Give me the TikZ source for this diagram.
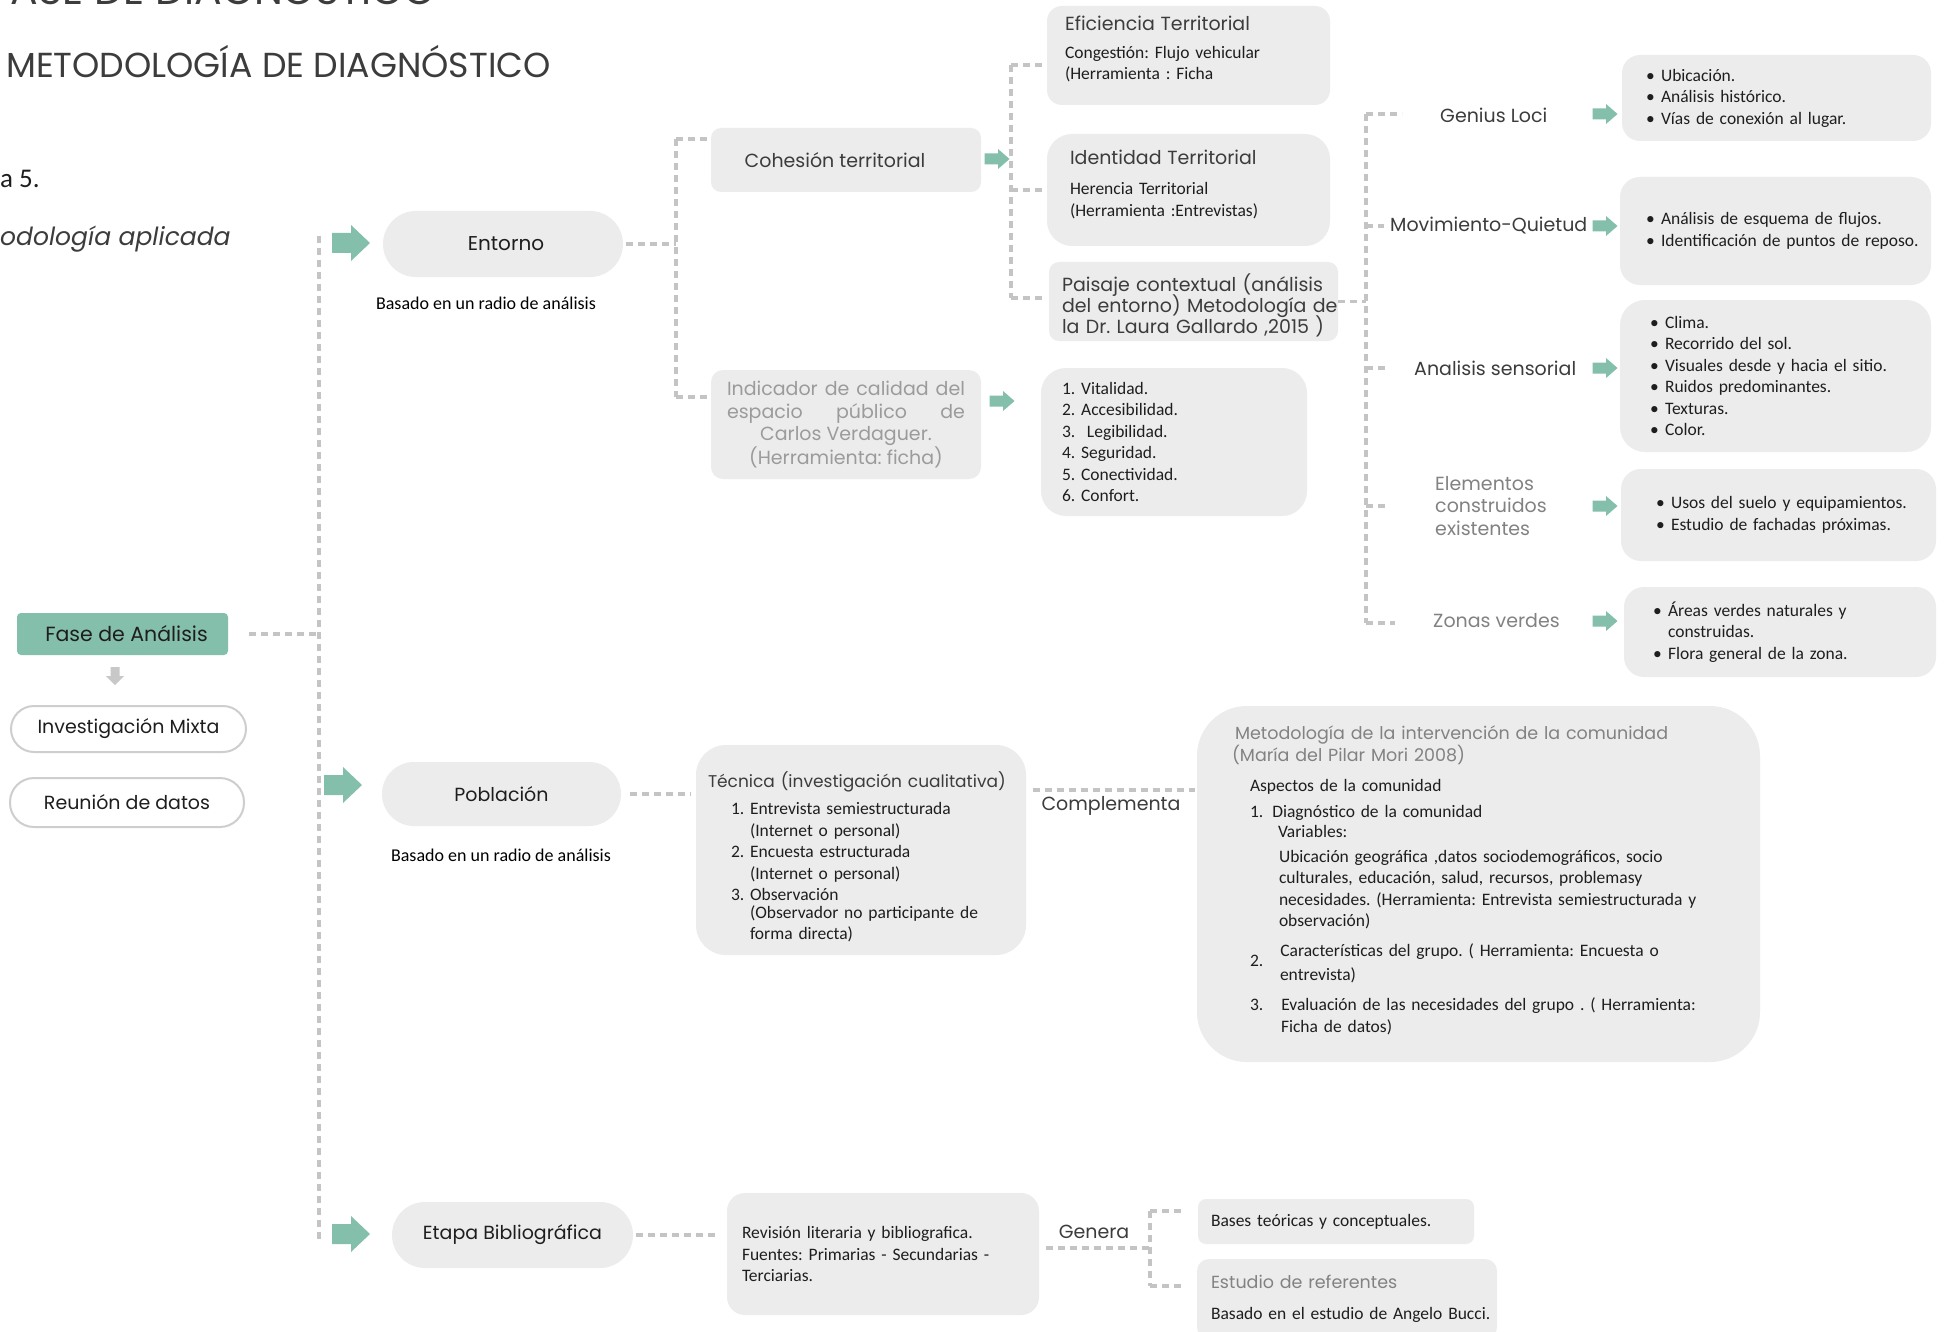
\documentclass[tikz,border=0pt]{standalone}
\usepackage{fontspec}
\setmainfont{Carlito}
\newfontfamily\mont{Poppins}
\frenchspacing

\definecolor{boxgray}{RGB}{236,236,236}
\definecolor{linegray}{RGB}{196,196,196}
\definecolor{pillgray}{RGB}{206,206,206}
\definecolor{arrowgreen}{RGB}{132,191,172}
\definecolor{arrowgray}{RGB}{200,200,200}
\definecolor{txtdark}{RGB}{30,30,30}
\definecolor{txtmid}{RGB}{60,60,60}
\definecolor{txtlight}{RGB}{130,130,130}
\definecolor{txtpale}{RGB}{155,155,155}

\newcommand{\bodyfont}{\fontsize{17.5}{21.5}\selectfont}
\newcommand{\labelfont}{\mont\fontsize{19}{22.5}\selectfont}
\newcommand{\smalllabelfont}{\mont\fontsize{17.5}{21.5}\selectfont}
\newcommand{\tightfont}{\mont\fontsize{19}{21}\selectfont\lineskiplimit=-100pt\relax}
\newcommand{\bul}{\makebox[15pt][l]{\textbullet}}
\newcommand{\spill}{\rightskip=-60pt plus 1fil\relax}

\begin{document}
\begin{tikzpicture}[x=1pt,y=-1pt,
  box/.style={fill=boxgray, inner sep=0pt, text=txtdark, font=\bodyfont, align=left, execute at begin node=\spill},
  pillbox/.style={fill=boxgray, inner sep=0pt, text=txtdark, font=\labelfont, align=center},
  outlinepill/.style={draw=pillgray, line width=2pt, fill=white, inner sep=0pt, text=txtdark, font=\labelfont},
  link/.style={draw=linegray, line width=3.5pt, dash pattern=on 7pt off 5pt},
  branchlabel/.style={inner sep=0pt, font=\labelfont, text=txtmid, anchor=west},
  bigflecha/.pic={\fill[arrowgreen] (-19,-10) -- (0,-10) -- (0,-18) -- (19,0) -- (0,18) -- (0,10) -- (-19,10) -- cycle;},
  smallflecha/.pic={\fill[arrowgreen] (-12.5,-5.5) -- (1,-5.5) -- (1,-10) -- (12.5,0) -- (1,10) -- (1,5.5) -- (-12.5,5.5) -- cycle;},
  bajaflecha/.pic={\fill[arrowgray] (-4.5,-9) -- (4.5,-9) -- (4.5,0) -- (9,0) -- (0,9) -- (-9,0) -- (-4.5,0) -- cycle;}]
\fill[white] (0,0) rectangle (1945,1332);
\useasboundingbox (0,0) rectangle (1945,1332);

% Text Node
\node[anchor=base west, inner sep=0pt, font=\mont\fontsize{41}{48}\selectfont, text=txtmid] (fase-titulo) at (-10,5) {FASE DE DIAGNÓSTICO};
\node[anchor=base west, inner sep=0pt, font=\mont\fontsize{34.7}{42}\selectfont, text=txtmid] (metodo-titulo) at (6,78) {METODOLOGÍA DE DIAGNÓSTICO};
\node[anchor=base west, inner sep=0pt, font=\fontsize{27}{30}\selectfont, text=txtdark] (figura-num) at (0,188) {a 5.};
\node[anchor=base west, inner sep=0pt, font=\mont\itshape\fontsize{25}{30}\selectfont, text=txtmid] (figura-cap) at (0,246) {odología aplicada};

%Left column
\node[fill=arrowgreen, rounded corners=4pt, minimum width=211pt, minimum height=42pt, inner sep=0pt, font=\mont\fontsize{20.5}{24}\selectfont, text=txtdark] (fase) at (122.5,634) {\hspace*{8pt}Fase de Análisis};
\pic (fase-flecha) at (115,676) {bajaflecha};
\node[outlinepill, rounded corners=23pt, minimum width=235pt, minimum height=46pt] (mixta) at (128.5,729) {Investigación Mixta};
\node[outlinepill, rounded corners=24pt, minimum width=234pt, minimum height=49pt] (reunion) at (127,802.5) {Reunión de datos};

%Main stages
\node[pillbox, rounded corners=33pt, minimum width=240pt, minimum height=66pt, font=\mont\fontsize{20}{24}\selectfont] (entorno) at (503,244) {\hspace*{6pt}Entorno};
\node[inner sep=0pt, font=\fontsize{18}{22}\selectfont] (basado-ent) at (486,303) {Basado en un radio de análisis};
\node[pillbox, rounded corners=32pt, minimum width=239pt, minimum height=64pt] (poblacion) at (501.5,794) {Población};
\node[inner sep=0pt, font=\fontsize{18}{22}\selectfont] (basado-pob) at (501,855) {Basado en un radio de análisis};
\node[pillbox, rounded corners=33pt, minimum width=241pt, minimum height=66pt] (etapa) at (512.5,1235) {Etapa Bibliográfica};

\pic (flecha-ent) at (351,243) {bigflecha};
\pic (flecha-pob) at (343,785) {bigflecha};
\pic (flecha-eta) at (351,1234) {bigflecha};

%Entorno branch
\node[pillbox, rounded corners=10pt, minimum width=270pt, minimum height=64pt, text=txtmid] (cohesion) at (846,160) {Cohesión territorial\hspace*{22pt}};
\node[pillbox, rounded corners=12pt, minimum width=270pt, minimum height=109pt, text=txtpale] (indicador) at (846,424.5) {\makebox[238pt][s]{Indicador de calidad del}\\\makebox[238pt][s]{espacio público de}\\Carlos Verdaguer.\\(Herramienta: ficha)};
\pic (flecha-coh) at (997,159) {smallflecha};
\pic (flecha-ind) at (1002,401) {smallflecha};
\node[box, rounded corners=25pt, minimum width=266pt, minimum height=148pt, text width=224pt] (calidad) at (1174,442) {1. Vitalidad.\\2. Accesibilidad.\\3.\ \ Legibilidad.\\4. Seguridad.\\5. Conectividad.\\6. Confort.};

\node[box, rounded corners=15pt, minimum width=283pt, minimum height=99pt, text width=247pt] (eficiencia) at (1188.5,55.5) {{\labelfont\color{txtmid}Eficiencia Territorial}\\[6pt]Congestión: Flujo vehicular\\(Herramienta : Ficha\\[-6pt]\mbox{}};
\node[box, rounded corners=25pt, minimum width=283pt, minimum height=112pt, text width=237pt] (identidad) at (1188.5,190) {{\labelfont\color{txtmid}Identidad Territorial}\\[9pt]Herencia Territorial\\(Herramienta :Entrevistas)\\[-8pt]\mbox{}};
\node[box, rounded corners=10pt, minimum width=289pt, minimum height=79pt, text width=263pt, font=\tightfont, text=txtmid] (paisaje) at (1193.5,301.5) {Paisaje contextual (análisis\\del entorno) Metodología de\\la Dr. Laura Gallardo ,2015 )\\[-25pt]\mbox{}};

\node[branchlabel] (genius) at (1440,115) {Genius Loci};
\node[branchlabel] (movimiento) at (1390,226) {Movimiento-Quietud};
\node[branchlabel] (sensorial) at (1414,368) {Analisis sensorial};
\node[branchlabel, text=txtlight, align=left] (elementos) at (1435,506) {Elementos\\construidos\\existentes};
\node[branchlabel, text=txtlight] (zonas) at (1433,621) {Zonas verdes};

\pic (flecha-gen) at (1605,114) {smallflecha};
\pic (flecha-mov) at (1605,226) {smallflecha};
\pic (flecha-sen) at (1605,368) {smallflecha};
\pic (flecha-ele) at (1605,506) {smallflecha};
\pic (flecha-zon) at (1605,621) {smallflecha};

\node[box, rounded corners=18pt, minimum width=309pt, minimum height=86pt, text width=261pt] (genius-lista) at (1776.5,98) {\bul Ubicación.\\\bul Análisis histórico.\\\bul Vías de conexión al lugar.};
\node[box, rounded corners=20pt, minimum width=311pt, minimum height=108pt, text width=259pt] (movimiento-lista) at (1775.5,231) {\bul Análisis de esquema de flujos.\\\bul Identificación de puntos de reposo.};
\node[box, rounded corners=25pt, minimum width=311pt, minimum height=152pt, text width=251pt] (sensorial-lista) at (1775.5,376) {\bul Clima.\\\bul Recorrido del sol.\\\bul Visuales desde y hacia el sitio.\\\bul Ruidos predominantes.\\\bul Texturas.\\\bul Color.};
\node[box, rounded corners=20pt, minimum width=315pt, minimum height=92pt, text width=245pt] (elementos-lista) at (1778.5,515) {\bul Usos del suelo y equipamientos.\\\bul Estudio de fachadas próximas.};
\node[box, rounded corners=20pt, minimum width=312pt, minimum height=90pt, text width=254pt] (zonas-lista) at (1780,632) {\bul Áreas verdes naturales y\\\hspace*{15pt}construidas.\\\bul Flora general de la zona.};

%Poblacion branch
\node[box, rounded corners=30pt, minimum width=330pt, minimum height=210pt, text width=306pt] (tecnica) at (861,850) {{\mont\fontsize{17}{21.5}\selectfont\color{txtmid}Técnica (investigación cualitativa)}\\[6pt]
\hspace*{23pt}1. Entrevista semiestructurada\\
\hspace*{42pt}(Internet o personal)\\
\hspace*{23pt}2. Encuesta estructurada\\
\hspace*{42pt}(Internet o personal)\\
\hspace*{23pt}3. Observación\\[-4pt]
\hspace*{42pt}\makebox[235pt][s]{(Observador no participante de}\\
\hspace*{42pt}forma directa)\\[-33pt]\mbox{}};
\node[inner sep=0pt, font=\labelfont, text=txtmid] (complementa) at (1111,806) {Complementa};
\node[box, rounded corners=50pt, minimum width=563pt, minimum height=356pt, text width=493pt] (comunidad) at (1478.5,884) {{\smalllabelfont\color{txtlight}\hspace*{3pt}Metodología de la intervención de la comunidad\\(María del Pilar Mori 2008)}\\[9pt]
\hspace*{18pt}Aspectos de la comunidad\\[4pt]
\hspace*{18pt}1.\hspace{9pt}Diagnóstico de la comunidad\\[-1pt]
\hspace*{46pt}Variables:\\[3pt]
\hspace*{47pt}\makebox[428pt][s]{Ubicación geográfica ,datos sociodemográficos, socio}\\
\hspace*{47pt}\makebox[428pt][s]{culturales, educación, salud, recursos, problemasy}\\
\hspace*{47pt}\makebox[428pt][s]{necesidades. (Herramienta: Entrevista semiestructurada y}\\
\hspace*{47pt}observación)\\[8pt]
\hspace*{18pt}\raisebox{-10pt}{2.}\hspace{17pt}\makebox[423pt][s]{Características del grupo. ( Herramienta: Encuesta o}\\
\hspace*{48pt}entrevista)\\[9pt]
\hspace*{18pt}3.\hspace{18pt}\makebox[422pt][s]{Evaluación de las necesidades del grupo . ( Herramienta:}\\
\hspace*{49pt}Ficha de datos)\\[-12pt]\mbox{}};

%Etapa branch
\node[box, rounded corners=18pt, minimum width=312pt, minimum height=122pt, text width=282pt] (revision) at (883,1254) {Revisión literaria y bibliografica.\\\makebox[282pt][s]{Fuentes: Primarias - Secundarias -}\\Terciarias.};
\node[inner sep=0pt, font=\labelfont, text=txtmid] (genera) at (1094,1232) {Genera};
\node[box, rounded corners=8pt, minimum width=276pt, minimum height=45pt, text width=250pt] (bases) at (1336,1221.5) {Bases teóricas y conceptuales.};
\node[box, rounded corners=12pt, minimum width=300pt, minimum height=80pt, text width=272pt] (referentes) at (1347,1299) {{\smalllabelfont\color{txtlight}Estudio de referentes}\\[9pt]Basado en el estudio de Angelo Bucci.};

%Straight Lines
\coordinate (spine-top) at (319,236);
\coordinate (spine-bot) at (319,1240);
\draw[link] (spine-top) -- (spine-bot);
\draw[link] ([xshift=21pt]fase.east) -- (fase.east -| spine-top);

\coordinate (ent-top) at (676,139);
\coordinate (ent-bot) at (676,397);
\draw[link] ([xshift=3pt]entorno.east) -- (entorno.east -| ent-top);
\draw[link] (ent-top) -- (ent-bot);
\draw[link] (ent-top) -- (ent-top -| cohesion.west);
\draw[link] (ent-bot) -- ([xshift=-4pt]ent-bot -| indicador.west);

\coordinate (coh-top) at (1011,65);
\coordinate (coh-bot) at (1011,298);
\draw[link] (coh-top) -- (coh-bot);
\draw[link] (coh-top) -- ([xshift=-5pt]coh-top -| eficiencia.west);
\draw[link] (coh-top |- identidad.west) -- ([xshift=-5pt]identidad.west);
\draw[link] (coh-bot) -- ([xshift=-5pt]coh-bot -| paisaje.west);

\coordinate (pai-top) at (1366,114);
\coordinate (pai-bot) at (1366,623);
\draw[link] (paisaje.east) -- (paisaje.east -| pai-top);
\draw[link] (pai-top) -- (pai-bot);
\draw[link] (pai-top) -- ([xshift=-38pt]pai-top -| genius.west);
\draw[link] (pai-top |- movimiento.west) -- ([xshift=-6pt]movimiento.west);
\draw[link] (pai-top |- sensorial.west) -- ([xshift=-27pt]sensorial.west);
\draw[link] (pai-top |- elementos.west) -- ([xshift=-48pt]elementos.west);
\draw[link] (pai-bot) -- ([xshift=-38pt]pai-bot -| zonas.west);

\draw[link] ([xshift=9pt]poblacion.east) -- ([xshift=-5pt]tecnica.west |- poblacion.east);
\coordinate (comp-ini) at (1033,790);
\draw[link] (comp-ini) -- ([xshift=-2pt]comp-ini -| comunidad.west);

\draw[link] ([xshift=3pt]etapa.east) -- ([xshift=-8pt]revision.west |- etapa.east);
\coordinate (gen-mid) at (1150,1248);
\coordinate (gen-top) at (1150,1211);
\coordinate (gen-bot) at (1150,1286);
\draw[link] ([xshift=7pt]gen-mid -| revision.east) -- (gen-mid);
\draw[link] (gen-top) -- (gen-bot);
\draw[link] (gen-top) -- ([xshift=-13pt]gen-top -| bases.west);
\draw[link] (gen-bot) -- ([xshift=-12pt]gen-bot -| referentes.west);

\end{tikzpicture}
\end{document}
